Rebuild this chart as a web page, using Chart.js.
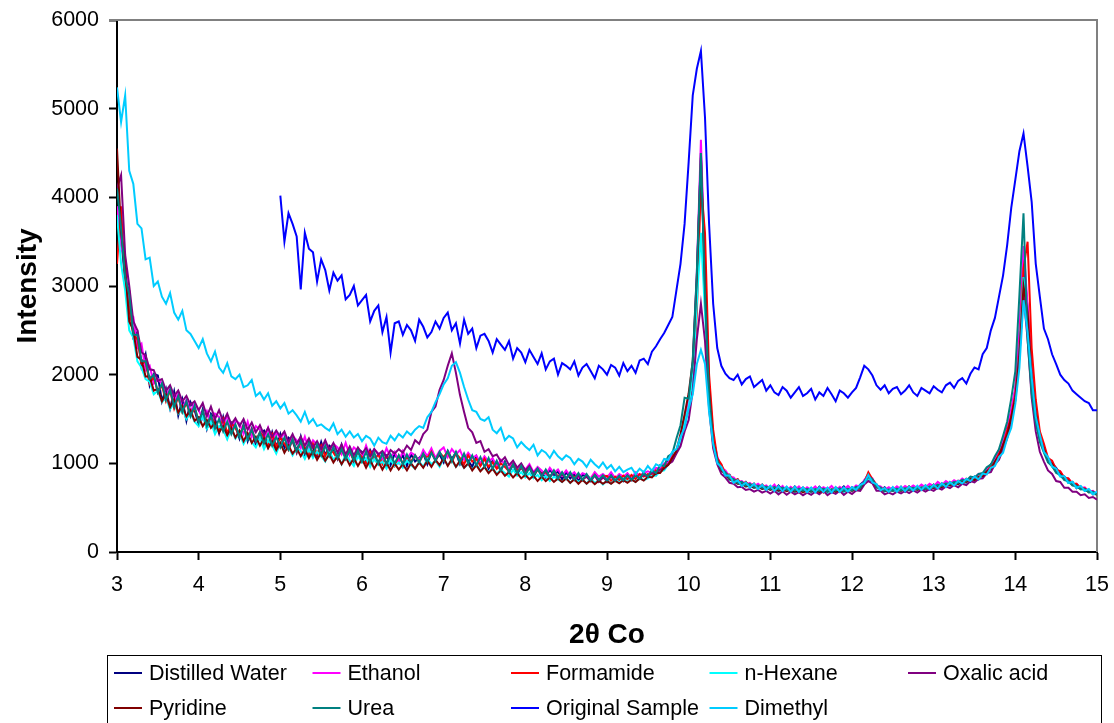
<!DOCTYPE html>
<html>
<head>
<meta charset="utf-8">
<title>XRD patterns</title>
<script src="https://cdn.jsdelivr.net/npm/chart.js@4.4.1/dist/chart.umd.min.js"></script>
<style>
  html, body { margin: 0; padding: 0; background: #fff; }
  #wrap { position: relative; width: 1114px; height: 723px; }
</style>
</head>
<body>
<div id="wrap"><canvas id="xrdChart"></canvas></div>
<script>
// 2-theta positions (step 0.05)
const twoTheta = [
  3,3.05,3.1,3.15,3.2,3.25,3.3,3.35,3.4,3.45,
  3.5,3.55,3.6,3.65,3.7,3.75,3.8,3.85,3.9,3.95,
  4,4.05,4.1,4.15,4.2,4.25,4.3,4.35,4.4,4.45,
  4.5,4.55,4.6,4.65,4.7,4.75,4.8,4.85,4.9,4.95,
  5,5.05,5.1,5.15,5.2,5.25,5.3,5.35,5.4,5.45,
  5.5,5.55,5.6,5.65,5.7,5.75,5.8,5.85,5.9,5.95,
  6,6.05,6.1,6.15,6.2,6.25,6.3,6.35,6.4,6.45,
  6.5,6.55,6.6,6.65,6.7,6.75,6.8,6.85,6.9,6.95,
  7,7.05,7.1,7.15,7.2,7.25,7.3,7.35,7.4,7.45,
  7.5,7.55,7.6,7.65,7.7,7.75,7.8,7.85,7.9,7.95,
  8,8.05,8.1,8.15,8.2,8.25,8.3,8.35,8.4,8.45,
  8.5,8.55,8.6,8.65,8.7,8.75,8.8,8.85,8.9,8.95,
  9,9.05,9.1,9.15,9.2,9.25,9.3,9.35,9.4,9.45,
  9.5,9.55,9.6,9.65,9.7,9.75,9.8,9.85,9.9,9.95,
  10,10.05,10.1,10.15,10.2,10.25,10.3,10.35,10.4,10.45,
  10.5,10.55,10.6,10.65,10.7,10.75,10.8,10.85,10.9,10.95,
  11,11.05,11.1,11.15,11.2,11.25,11.3,11.35,11.4,11.45,
  11.5,11.55,11.6,11.65,11.7,11.75,11.8,11.85,11.9,11.95,
  12,12.05,12.1,12.15,12.2,12.25,12.3,12.35,12.4,12.45,
  12.5,12.55,12.6,12.65,12.7,12.75,12.8,12.85,12.9,12.95,
  13,13.05,13.1,13.15,13.2,13.25,13.3,13.35,13.4,13.45,
  13.5,13.55,13.6,13.65,13.7,13.75,13.8,13.85,13.9,13.95,
  14,14.05,14.1,14.15,14.2,14.25,14.3,14.35,14.4,14.45,
  14.5,14.55,14.6,14.65,14.7,14.75,14.8,14.85,14.9,14.95,15
];

const distilledWater = [
  3700,3560,3050,2950,2420,2480,2090,2230,1880,2010,
  1990,1700,1840,1620,1810,1540,1720,1480,1690,1600,
  1440,1610,1390,1560,1500,1340,1520,1300,1460,1420,
  1280,1440,1250,1390,1210,1340,1370,1190,1350,1180,
  1330,1170,1290,1250,1120,1300,1100,1250,1180,1080,
  1240,1090,1200,1160,1050,1210,1060,1170,1020,1160,
  1130,1010,1150,1060,1000,1120,1090,980,1110,1020,
  1090,970,1100,1020,1060,1110,990,1130,1040,1100,
  1010,1140,1050,1120,990,1090,1030,960,1080,980,
  1060,940,1030,990,920,1020,900,990,880,960,
  880,960,850,930,890,840,930,860,910,820,
  900,830,880,800,870,850,800,890,810,860,
  790,870,820,850,800,880,810,860,830,900,
  840,920,870,960,940,1030,1050,1140,1230,1420,
  1680,2050,3050,4500,3100,1850,1300,1010,980,850,
  870,790,820,750,790,730,770,720,760,700,
  740,690,750,700,730,680,740,695,725,675,
  720,680,735,690,715,670,725,700,740,690,
  730,700,760,800,880,790,760,700,730,680,
  725,690,735,680,740,700,730,715,750,705,
  760,720,770,735,785,750,800,770,820,790,
  850,820,890,900,990,1010,1150,1230,1400,1570,
  1830,2450,3300,2750,2050,1600,1330,1180,1030,1000,
  950,870,850,780,790,720,740,690,700,650,660
];

const ethanol = [
  3900,3450,3300,2700,2650,2300,2350,2050,2100,1900,
  1950,1900,1760,1850,1700,1790,1620,1720,1580,1680,
  1600,1500,1590,1460,1560,1520,1420,1540,1390,1480,
  1450,1330,1470,1300,1420,1380,1260,1400,1250,1350,
  1280,1340,1200,1310,1260,1170,1300,1150,1260,1210,
  1140,1250,1130,1220,1180,1100,1230,1090,1180,1140,
  1060,1200,1080,1160,1110,1040,1170,1070,1130,1010,
  1140,1050,1120,1090,1030,1150,1080,1170,1060,1140,
  1180,1070,1160,1100,1150,1040,1120,1060,1090,1000,
  1080,1020,1060,960,1040,990,930,1020,950,980,
  930,990,900,960,920,870,950,890,930,860,
  920,860,900,840,890,870,830,900,850,880,
  840,900,830,880,850,890,830,900,860,890,
  910,890,950,940,1000,1010,1090,1120,1270,1440,
  1720,2100,3150,4650,3150,1900,1280,1080,950,920,
  850,840,790,800,760,780,740,770,730,750,
  710,760,700,745,690,735,700,740,685,730,
  700,740,690,730,705,745,690,735,700,745,
  705,750,730,810,870,830,750,740,700,730,
  700,740,705,745,715,750,720,760,730,770,
  740,790,755,800,770,810,785,830,800,840,
  830,880,870,940,960,1060,1120,1270,1390,1610,
  1850,2500,3450,2780,2020,1620,1310,1190,1060,1020,
  920,910,830,830,760,770,720,730,680,690,650
];

const formamide = [
  3250,3900,3000,2750,2450,2400,2120,2150,1900,1980,
  1800,1880,1700,1820,1620,1750,1580,1680,1540,1620,
  1480,1580,1430,1520,1460,1370,1500,1340,1450,1400,
  1310,1420,1280,1380,1250,1350,1300,1200,1330,1180,
  1290,1220,1150,1270,1130,1240,1180,1090,1220,1100,
  1200,1080,1170,1120,1050,1160,1070,1140,1030,1120,
  1070,1000,1130,1040,1100,990,1080,1050,970,1090,
  1000,1070,1020,1090,1010,1100,1060,1130,1030,1120,
  1070,1130,1020,1110,1060,990,1090,1020,1050,970,
  1050,960,1010,940,1000,960,910,990,920,950,
  890,950,870,930,880,900,840,910,850,880,
  830,880,840,870,810,860,820,870,800,850,
  860,800,850,810,860,820,870,820,880,850,
  880,870,920,910,980,990,1070,1130,1290,1500,
  1580,1860,2700,4150,3600,2000,1380,1060,990,880,
  870,800,820,760,790,740,770,720,760,710,
  740,690,735,680,720,700,730,675,725,690,
  720,680,725,670,715,690,730,680,720,695,
  725,700,745,780,900,820,760,705,720,680,
  725,690,730,695,740,700,735,710,750,715,
  760,720,775,740,790,760,805,780,825,800,
  840,830,880,900,970,1010,1110,1200,1370,1530,
  1780,2300,3200,3500,2300,1720,1360,1220,1060,1030,
  930,910,840,830,770,770,720,720,680,680,640
];

const nHexane = [
  3800,3250,2950,2500,2420,2150,2080,1950,1920,1780,
  1820,1690,1740,1610,1680,1560,1620,1500,1570,1470,
  1420,1530,1390,1470,1330,1420,1380,1270,1390,1280,
  1340,1220,1310,1240,1180,1290,1160,1260,1200,1110,
  1230,1130,1190,1090,1170,1140,1050,1160,1060,1130,
  1080,1020,1140,1040,1090,990,1100,1030,970,1080,
  1010,1060,960,1050,980,1020,940,1040,970,1010,
  950,1030,980,940,1020,960,1050,990,1030,960,
  1050,980,1030,960,1010,950,990,930,990,920,
  960,900,950,880,930,890,850,930,860,900,
  840,890,830,870,810,860,800,850,820,790,
  840,780,830,790,820,770,830,780,810,760,
  810,770,820,780,830,790,820,790,840,810,
  830,860,860,910,920,990,1030,1130,1250,1460,
  1640,1960,2800,3600,2700,1760,1210,1020,920,880,
  810,800,770,760,740,745,720,735,710,720,
  700,725,680,715,690,705,670,710,680,700,
  670,710,685,705,665,700,680,710,675,705,
  690,715,715,780,820,790,720,710,680,700,
  685,700,690,710,695,715,700,720,705,730,
  715,745,730,760,745,775,760,790,780,815,
  800,845,850,905,920,1010,1060,1180,1290,1490,
  1710,2250,3100,2600,1960,1510,1290,1130,1050,960,
  920,850,835,780,770,725,725,690,690,655,650
];

const oxalicAcid = [
  4100,4250,3350,3000,2600,2500,2250,2220,2060,2050,
  1930,1950,1820,1880,1760,1820,1700,1760,1660,1700,
  1600,1680,1530,1640,1500,1600,1470,1560,1440,1510,
  1420,1500,1380,1460,1350,1430,1320,1400,1300,1370,
  1300,1360,1240,1330,1220,1300,1200,1280,1180,1250,
  1160,1260,1150,1230,1120,1210,1100,1190,1090,1180,
  1110,1170,1080,1160,1100,1140,1070,1150,1110,1160,
  1120,1200,1150,1260,1220,1330,1380,1580,1640,1830,
  1940,2100,2240,2020,1770,1580,1400,1350,1230,1250,
  1130,1160,1080,1100,1020,1070,980,1030,950,1000,
  920,970,890,940,870,920,850,900,840,880,
  830,880,810,860,820,850,800,860,790,840,
  810,850,800,850,810,860,815,865,830,870,
  850,900,880,930,940,990,1020,1110,1190,1360,
  1490,1820,2400,2800,2380,1620,1170,990,880,840,
  780,770,730,735,700,710,680,700,670,690,
  660,690,650,685,645,680,650,675,640,670,
  645,680,650,690,640,675,655,690,645,680,
  655,695,690,760,800,775,690,690,650,670,
  650,680,660,690,665,695,670,705,680,710,
  690,725,705,740,720,755,730,770,755,800,
  785,825,830,890,900,990,1040,1160,1280,1490,
  1710,2250,2900,2400,1740,1360,1130,1020,920,880,
  800,790,725,725,680,680,640,650,610,620,590
];

const pyridine = [
  4550,3600,3200,2600,2500,2200,2170,1980,1980,1820,
  1840,1700,1780,1630,1720,1570,1650,1530,1600,1480,
  1520,1420,1490,1400,1460,1350,1420,1320,1400,1290,
  1370,1250,1340,1230,1300,1200,1280,1170,1250,1150,
  1230,1120,1200,1110,1170,1080,1160,1060,1140,1040,
  1120,1030,1100,1010,1080,990,1070,980,1060,970,
  1050,950,1040,940,1020,930,1010,920,1000,930,
  990,920,1000,940,1010,950,1030,960,1040,980,
  1060,970,1050,960,1030,950,1000,920,980,910,
  960,890,940,870,920,860,900,840,890,830,
  870,820,860,800,850,800,840,790,830,790,
  830,780,820,770,815,770,810,765,805,770,
  800,770,805,775,810,780,815,790,830,805,
  850,840,890,890,950,980,1060,1140,1330,1550,
  1790,2150,3100,4450,3000,1820,1240,1040,920,880,
  820,800,770,770,740,750,725,735,712,725,
  700,720,690,710,685,705,680,700,672,695,
  680,700,675,700,680,705,678,702,685,708,
  690,720,715,790,850,810,730,715,685,700,
  690,705,690,712,698,718,700,725,708,735,
  720,750,732,765,750,782,765,800,790,825,
  810,850,855,910,935,1020,1080,1210,1320,1520,
  1740,2200,3000,2700,1990,1570,1290,1160,1040,995,
  905,880,820,805,755,750,710,710,675,680,645
];

const urea = [
  4100,3650,3100,2900,2450,2450,2150,2150,1950,2000,
  1800,1900,1720,1830,1640,1760,1580,1700,1530,1650,
  1460,1590,1420,1540,1390,1500,1360,1470,1330,1440,
  1300,1420,1270,1380,1250,1350,1220,1330,1200,1300,
  1180,1290,1160,1270,1140,1250,1120,1230,1100,1210,
  1090,1200,1080,1180,1060,1160,1050,1150,1030,1140,
  1020,1130,1010,1120,1000,1110,990,1100,1000,1090,
  990,1100,1000,1090,1010,1110,1020,1120,1030,1130,
  1040,1140,1030,1130,1010,1110,1000,1090,980,1070,
  960,1060,940,1030,920,1010,900,990,890,970,
  870,950,860,940,850,930,840,920,830,900,
  825,900,820,890,815,880,810,870,812,865,
  808,865,805,860,810,865,815,870,825,890,
  850,920,890,980,970,1080,1110,1280,1430,1740,
  1730,2170,3150,4500,2900,1760,1220,1040,930,900,
  830,825,780,790,750,768,735,750,722,738,
  710,735,705,725,700,718,692,715,690,712,
  688,710,690,715,685,708,692,718,688,715,
  695,735,720,800,850,820,735,728,690,708,
  692,715,695,720,700,725,708,730,712,740,
  730,760,745,775,765,790,780,815,805,850,
  840,880,890,955,985,1080,1160,1310,1470,1730,
  2040,2900,3820,2400,1790,1460,1240,1120,1010,970,
  890,870,810,800,750,745,705,710,672,680,645
];

// recorded from 5.00 onwards
const originalSample = [
  4020,3500,3820,3700,3560,2960,3600,3420,3380,3050,
  3300,3180,2950,3150,3060,3120,2850,2900,3000,2780,
  2840,2900,2600,2720,2780,2480,2650,2250,2580,2600,
  2450,2560,2500,2380,2620,2540,2420,2480,2600,2520,
  2640,2700,2500,2580,2350,2620,2460,2520,2300,2440,
  2460,2380,2250,2400,2340,2280,2380,2180,2300,2250,
  2140,2280,2200,2120,2240,2060,2150,2180,2000,2130,
  2100,2060,2150,1990,2080,2120,2040,1960,2100,2060,
  2000,2110,2080,1990,2130,2040,2100,2020,2160,2180,
  2120,2260,2320,2400,2470,2560,2650,2950,3250,3700,
  4400,5150,5450,5650,4900,3700,2800,2300,2100,2010,
  1960,1940,2000,1890,1950,1980,1860,1900,1940,1820,
  1880,1800,1770,1860,1820,1740,1800,1860,1760,1790,
  1840,1720,1800,1760,1850,1780,1700,1820,1790,1740,
  1800,1850,1970,2100,2060,1990,1880,1830,1880,1790,
  1840,1860,1780,1820,1880,1800,1760,1850,1820,1790,
  1870,1830,1800,1880,1910,1850,1930,1960,1900,2010,
  2080,2060,2230,2300,2500,2640,2880,3120,3460,3880,
  4200,4520,4720,4350,3950,3250,2880,2520,2400,2230,
  2120,2000,1940,1900,1820,1780,1740,1700,1680,1600,1600
];

const dimethyl = [
  5240,4850,5150,4300,4150,3700,3650,3300,3320,3000,
  3050,2880,2800,2920,2700,2620,2720,2500,2460,2380,
  2300,2400,2240,2150,2260,2080,2020,2130,1980,1950,
  2000,1860,1880,1940,1760,1800,1720,1790,1650,1700,
  1620,1680,1560,1600,1540,1470,1580,1450,1500,1420,
  1440,1400,1370,1450,1330,1380,1300,1360,1290,1330,
  1250,1310,1280,1200,1290,1240,1220,1310,1260,1330,
  1290,1360,1320,1380,1420,1400,1520,1580,1690,1780,
  1890,1960,2100,2140,2020,1860,1720,1600,1580,1500,
  1480,1520,1380,1340,1400,1260,1310,1280,1180,1240,
  1190,1150,1210,1090,1150,1120,1060,1140,1080,1040,
  1090,1060,990,1050,1020,960,1040,990,950,1010,
  940,980,910,960,900,930,950,880,940,900,
  970,915,990,965,1050,1040,1130,1160,1300,1400,
  1620,1780,2120,2280,2120,1580,1220,1000,960,860,
  865,780,810,745,785,725,770,710,758,700,
  748,690,742,685,738,680,734,678,730,675,
  726,672,730,676,726,670,732,678,728,682,
  732,700,758,775,870,785,765,695,722,678,
  732,678,736,686,740,692,746,698,752,706,
  760,715,775,732,790,750,802,772,825,800,
  850,820,885,875,950,970,1070,1120,1280,1400,
  1670,2080,2840,2480,1970,1530,1320,1130,1070,965,
  940,855,855,780,790,725,745,690,712,655,680
];

const seriesNames = ['Distilled Water', 'Ethanol', 'Formamide', 'n-Hexane', 'Oxalic acid',
                     'Pyridine', 'Urea', 'Original Sample', 'Dimethyl'];
const seriesValues = [distilledWater, ethanol, formamide, nHexane, oxalicAcid,
                      pyridine, urea, originalSample, dimethyl];
const seriesStart = [0, 0, 0, 0, 0, 0, 0, 40, 0];   // index into twoTheta
const seriesColors = ['#000080', '#FF00FF', '#FF0000', '#00FFFF', '#800080',
                      '#800000', '#008080', '#0000FF', '#00CCFF'];

const FONT = '"Liberation Sans", Arial, sans-serif';

const datasets = seriesNames.map((name, k) => {
  const xs = twoTheta.slice(seriesStart[k]);
  return {
    label: name,
    data: seriesValues[k].map((v, i) => ({ x: xs[i], y: v })),
    borderColor: seriesColors[k],
    backgroundColor: seriesColors[k],
    borderWidth: 2,
    pointRadius: 0,
    tension: 0,
    fill: false,
    order: seriesNames.length - k   // later series drawn on top
  };
});

// grey frame on the top and right of the plot area
const plotFrame = {
  id: 'plotFrame',
  beforeDatasetsDraw(chart) {
    const { ctx, chartArea: { left, top, right, bottom } } = chart;
    ctx.save();
    ctx.strokeStyle = '#808080';
    ctx.lineWidth = 2;
    ctx.beginPath();
    ctx.moveTo(left - 8, top);
    ctx.lineTo(right, top);
    ctx.lineTo(right, bottom);
    ctx.stroke();
    ctx.restore();
  }
};

// boxed legend, five entries per row
const boxLegend = {
  id: 'boxLegend',
  afterDraw(chart) {
    const ctx = chart.ctx;
    ctx.save();
    ctx.strokeStyle = '#000';
    ctx.lineWidth = 1;
    ctx.strokeRect(107.5, 655.5, 994, 80);
    ctx.font = '21.5px ' + FONT;
    ctx.textBaseline = 'middle';
    ctx.fillStyle = '#000';
    chart.data.datasets.forEach((ds, i) => {
      const x = 114 + (i % 5) * 198.5;
      const y = 673 + Math.floor(i / 5) * 35;
      ctx.strokeStyle = ds.borderColor;
      ctx.lineWidth = 2;
      ctx.beginPath();
      ctx.moveTo(x, y);
      ctx.lineTo(x + 28, y);
      ctx.stroke();
      ctx.fillText(ds.label, x + 35, y + 1);
    });
    ctx.restore();
  }
};

new Chart(document.getElementById('xrdChart'), {
  type: 'line',
  data: { datasets },
  plugins: [plotFrame, boxLegend],
  options: {
    responsive: true,
    maintainAspectRatio: false,
    animation: false,
    layout: { padding: { left: 0, right: 17, top: 20, bottom: 71 } },
    plugins: {
      legend: { display: false },
      tooltip: { enabled: false }
    },
    scales: {
      x: {
        type: 'linear',
        min: 3,
        max: 15,
        ticks: { stepSize: 1, color: '#000', padding: 12, font: { family: FONT, size: 21.5 },
                 callback: (v) => String(v) },
        grid: { drawOnChartArea: false, tickLength: 8, tickColor: '#000', tickWidth: 2 },
        border: { color: '#000', width: 2 },
        title: { display: true, text: '2θ Co', color: '#000', padding: { top: 0, bottom: 0 },
                 font: { family: FONT, size: 28, weight: 'bold' } },
        afterFit(scale) {
          scale.height = 100;
          scale.paddingLeft = 0;
          scale.paddingRight = 0;
        }
      },
      y: {
        min: 0,
        max: 6000,
        ticks: { stepSize: 1000, color: '#000', padding: 10, font: { family: FONT, size: 21.5 },
                 callback: (v) => String(v) },
        grid: { drawOnChartArea: false, tickLength: 8, tickColor: '#000', tickWidth: 2 },
        border: { color: '#000', width: 2 },
        title: { display: true, text: 'Intensity', color: '#000', padding: { top: 11, bottom: 0 },
                 font: { family: FONT, size: 28, weight: 'bold' } },
        afterFit(scale) {
          scale.width = 117;
          scale.paddingTop = 0;
          scale.paddingBottom = 0;
        }
      }
    }
  }
});
</script>
</body>
</html>
